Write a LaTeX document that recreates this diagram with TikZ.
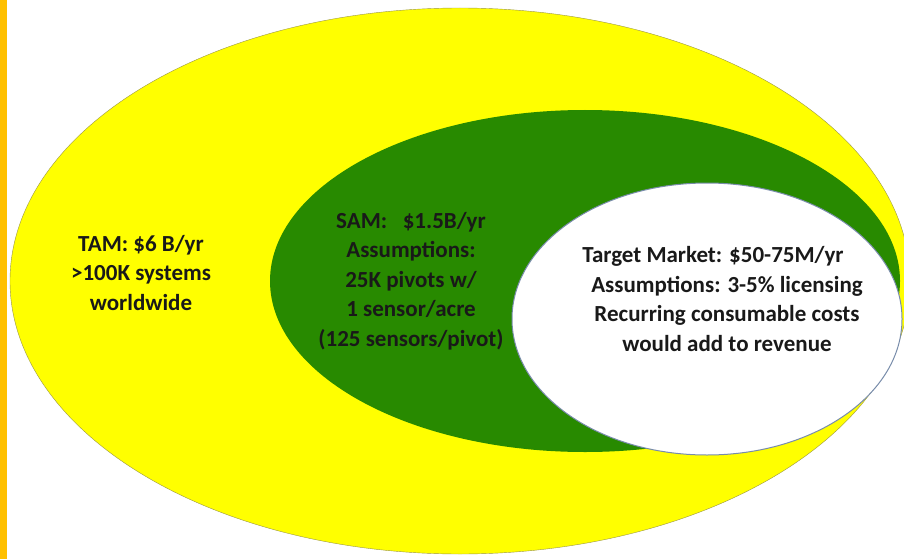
\documentclass[tikz,border=0pt]{standalone}
\usepackage{fontspec}
\setmainfont{Carlito}
\usetikzlibrary{shapes.geometric}
\definecolor{tamyellow}{RGB}{255,255,0}
\definecolor{samgreen}{RGB}{40,138,0}
\definecolor{barorange}{RGB}{255,192,0}
\definecolor{tmedge}{RGB}{120,140,170}
\tikzstyle{oval}=[ellipse, inner sep=0pt]
\tikzstyle{lbl}=[align=center, font=\bfseries\fontsize{23}{29.5}\selectfont, text=black!90]

\begin{document}
\begin{tikzpicture}[x=1pt,y=-1pt]
    \useasboundingbox (0,0) rectangle (904,559);
    \clip (0,0) rectangle (904,559);
    \fill [barorange] (0,0) rectangle (7,559);
    % nested markets
    \node [oval, draw=black!45!yellow, fill=tamyellow, minimum width=900pt, minimum height=546pt] (tam) at (460,281) {};
    \node [oval, fill=samgreen, minimum width=630pt, minimum height=342pt] (sam) at (585,281) {};
    \node [oval, draw=tmedge, line width=1pt, fill=white, minimum width=390pt, minimum height=272pt] (tm) at (707,319) {};
    % labels
    \node [lbl] (a) at (141,273) {TAM: \$6 B/yr\\>100K systems\\worldwide};
    \node [lbl] (b) at (411,281) {SAM:\ \ \ \$1.5B/yr\\Assumptions:\\25K pivots w/\\1 sensor/acre\\(125 sensors/pivot)};
    \node [lbl] (c) at (727,299) {Target Market: \$50-75M/yr\hspace*{28pt}\\Assumptions: 3-5\% licensing\\Recurring consumable costs\\would add to revenue};
\end{tikzpicture}
\end{document}
